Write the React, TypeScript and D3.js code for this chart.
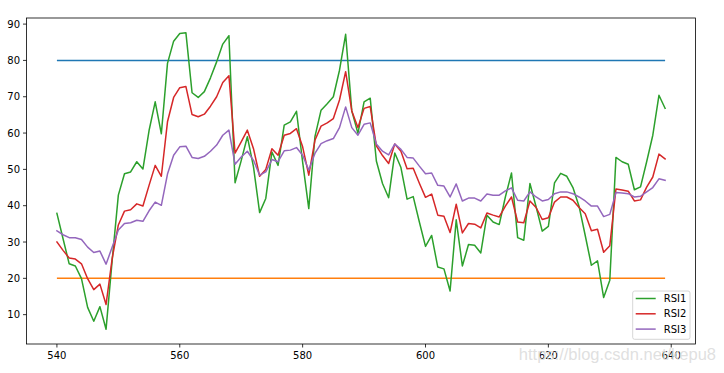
import React from 'react';
import * as d3 from 'd3';

const xStart = 540;
const rsi1 = [
  37.9, 30.9, 24.0, 23.4, 19.9, 12.0, 8.2, 12.2, 6.0, 25.0,
  42.9, 48.8, 49.3, 52.1, 50.1, 60.7, 68.6, 59.8, 79.2, 85.3,
  87.4, 87.6, 71.1, 69.8, 71.4, 75.2, 79.6, 84.5, 86.8, 46.3,
  52.4, 59.0, 50.7, 38.1, 42.0, 54.8, 51.1, 62.2, 63.1, 66.0,
  52.0, 39.2, 59.0, 66.3, 68.1, 70.0, 77.3, 87.2, 66.1, 59.9,
  68.6, 69.6, 52.3, 46.1, 42.2, 54.5, 50.5, 41.8, 42.5, 35.5,
  28.8, 31.8, 23.1, 22.6, 16.5, 36.1, 23.4, 29.3, 29.1, 27.0,
  37.4, 35.5, 34.8, 42.4, 49.0, 31.2, 30.5, 46.1, 39.7, 33.0,
  34.3, 46.3, 48.9, 48.1, 45.0, 39.8, 31.8, 23.6, 24.8, 14.7,
  19.5, 53.3, 52.1, 51.4, 44.4, 45.2, 52.1, 59.4, 70.4, 66.8,
];
const rsi2 = [
  30.0, 27.7, 25.6, 25.3, 24.0, 19.9, 16.9, 18.4, 12.8, 25.5,
  34.7, 38.5, 38.9, 40.5, 39.9, 45.6, 51.1, 48.1, 63.1, 69.8,
  72.5, 72.8, 65.1, 64.5, 65.2, 67.4, 70.0, 73.9, 75.8, 54.5,
  57.6, 60.8, 55.7, 48.1, 50.0, 55.7, 53.9, 59.4, 59.9, 61.2,
  56.2, 48.4, 58.0, 61.9, 62.8, 64.0, 69.1, 76.9, 66.1, 61.5,
  66.8, 67.3, 56.5, 53.8, 51.6, 57.0, 55.0, 50.2, 50.3, 46.2,
  42.3, 43.2, 37.4, 37.1, 32.6, 40.4, 32.5, 35.1, 34.9, 33.9,
  38.0, 37.4, 36.9, 39.9, 42.4, 35.5, 35.3, 41.3, 39.5, 36.2,
  36.7, 41.0, 42.4, 42.4, 41.5, 39.5, 37.8, 33.1, 33.5, 27.2,
  29.0, 44.6, 44.3, 44.0, 41.3, 41.6, 45.1, 47.9, 54.2, 52.9,
];
const rsi3 = [
  33.1, 32.0, 31.2, 31.2, 30.7, 28.6, 27.1, 27.5, 23.9, 28.6,
  33.3, 35.1, 35.3, 36.0, 35.7, 38.6, 41.0, 40.1, 48.7, 53.9,
  56.2, 56.4, 53.3, 53.0, 53.6, 55.0, 56.7, 59.4, 60.8, 51.4,
  53.4, 55.0, 52.5, 48.4, 49.3, 52.7, 52.1, 55.1, 55.3, 56.0,
  53.9, 49.8, 54.4, 57.1, 57.9, 58.5, 61.5, 67.2, 61.5, 59.4,
  62.4, 62.8, 57.0, 55.0, 54.0, 57.0, 55.5, 53.3, 53.1, 50.9,
  48.8, 49.0, 45.6, 45.4, 42.4, 46.0, 41.3, 42.1, 42.1, 41.3,
  43.2, 42.9, 42.9, 44.1, 44.9, 41.5, 41.3, 43.8, 42.4, 41.3,
  41.7, 43.3, 43.8, 43.8, 43.3, 42.4, 41.3, 39.9, 39.9, 37.0,
  37.6, 43.6, 43.5, 43.3, 42.4, 42.6, 43.8, 45.0, 47.4, 47.0,
];
const upperLevel = 80;
const lowerLevel = 20;
const xTicks = [540, 560, 580, 600, 620, 640];
const yTicks = [10, 20, 30, 40, 50, 60, 70, 80, 90];
const seriesNames = ['RSI1', 'RSI2', 'RSI3'];
const watermark = 'https://blog.csdn.net/kepu8';

const C_BLUE = '#1f77b4';
const C_ORANGE = '#ff7f0e';
const C_GREEN = '#2ca02c';
const C_RED = '#d62728';
const C_PURPLE = '#9467bd';

export default function App() {
  const W = 724, H = 373;
  const L = 26.5, R = 695.5, T = 18, B = 344;
  const idx = rsi1.map((_, i) => xStart + i);
  const xMin = idx[0], xMax = idx[idx.length - 1];
  const xPad = (xMax - xMin) * 0.05;
  const x = d3.scaleLinear().domain([xMin - xPad, xMax + xPad]).range([L, R]);
  const all = [...rsi1, ...rsi2, ...rsi3, upperLevel, lowerLevel];
  const yMin = d3.min(all) as number, yMax = d3.max(all) as number;
  const yPad = (yMax - yMin) * 0.05;
  const y = d3.scaleLinear().domain([yMin - yPad, yMax + yPad]).range([B, T]);

  const line = d3.line<number>().x((_, i) => x(idx[i])).y((d) => y(d));
  const series = [
    { name: seriesNames[0], data: rsi1, color: C_GREEN },
    { name: seriesNames[1], data: rsi2, color: C_RED },
    { name: seriesNames[2], data: rsi3, color: C_PURPLE },
  ];
  const font = 'DejaVu Sans, sans-serif';
  const legX = 632.7, legY = 291, legW = 57.3, legH = 48.3;

  return (
    <div style={{ position: 'absolute', left: 0, top: 0 }}>
      <svg width={W} height={H} style={{ display: 'block', background: '#fff' }}>
        <rect x={0} y={0} width={W} height={H} fill="#fff" />
        <line x1={x(xMin)} x2={x(xMax)} y1={y(upperLevel)} y2={y(upperLevel)} stroke={C_BLUE} strokeWidth={1.5} />
        <line x1={x(xMin)} x2={x(xMax)} y1={y(lowerLevel)} y2={y(lowerLevel)} stroke={C_ORANGE} strokeWidth={1.5} />
        {series.map((s) => (
          <path key={s.name} d={line(s.data) || ''} fill="none" stroke={s.color} strokeWidth={1.5} strokeLinejoin="round" strokeLinecap="square" />
        ))}
        <rect x={L} y={T} width={R - L} height={B - T} fill="none" stroke="#000" strokeWidth={0.8} />
        {xTicks.map((t) => (
          <g key={'x' + t}>
            <line x1={x(t)} x2={x(t)} y1={B} y2={B + 3.5} stroke="#000" strokeWidth={0.8} />
            <text x={x(t)} y={B + 15} textAnchor="middle" fontFamily={font} fontSize={10} fill="#000">{t}</text>
          </g>
        ))}
        {yTicks.map((t) => (
          <g key={'y' + t}>
            <line x1={L - 3.5} x2={L} y1={y(t)} y2={y(t)} stroke="#000" strokeWidth={0.8} />
            <text x={L - 6.5} y={y(t) + 3.6} textAnchor="end" fontFamily={font} fontSize={10} fill="#000">{t}</text>
          </g>
        ))}
        <g>
          <rect x={legX} y={legY} width={legW} height={legH} rx={2} ry={2} fill="#fff" fillOpacity={0.8} stroke="#cccccc" strokeWidth={0.8} />
          {series.map((s, i) => {
            const ry = 298.5 + i * 15.3;
            return (
              <g key={'leg' + s.name}>
                <line x1={legX + 3} x2={legX + 23} y1={ry} y2={ry} stroke={s.color} strokeWidth={1.5} />
                <text x={legX + 31} y={ry + 3.6} fontFamily={font} fontSize={10} fill="#000">{s.name}</text>
              </g>
            );
          })}
        </g>
        <text x={716} y={360} textAnchor="end" fontFamily="Liberation Sans, Arial, sans-serif" fontSize={16.5} fill="#dcdcdc" fillOpacity={0.9}>{watermark}</text>
      </svg>
    </div>
  );
}
